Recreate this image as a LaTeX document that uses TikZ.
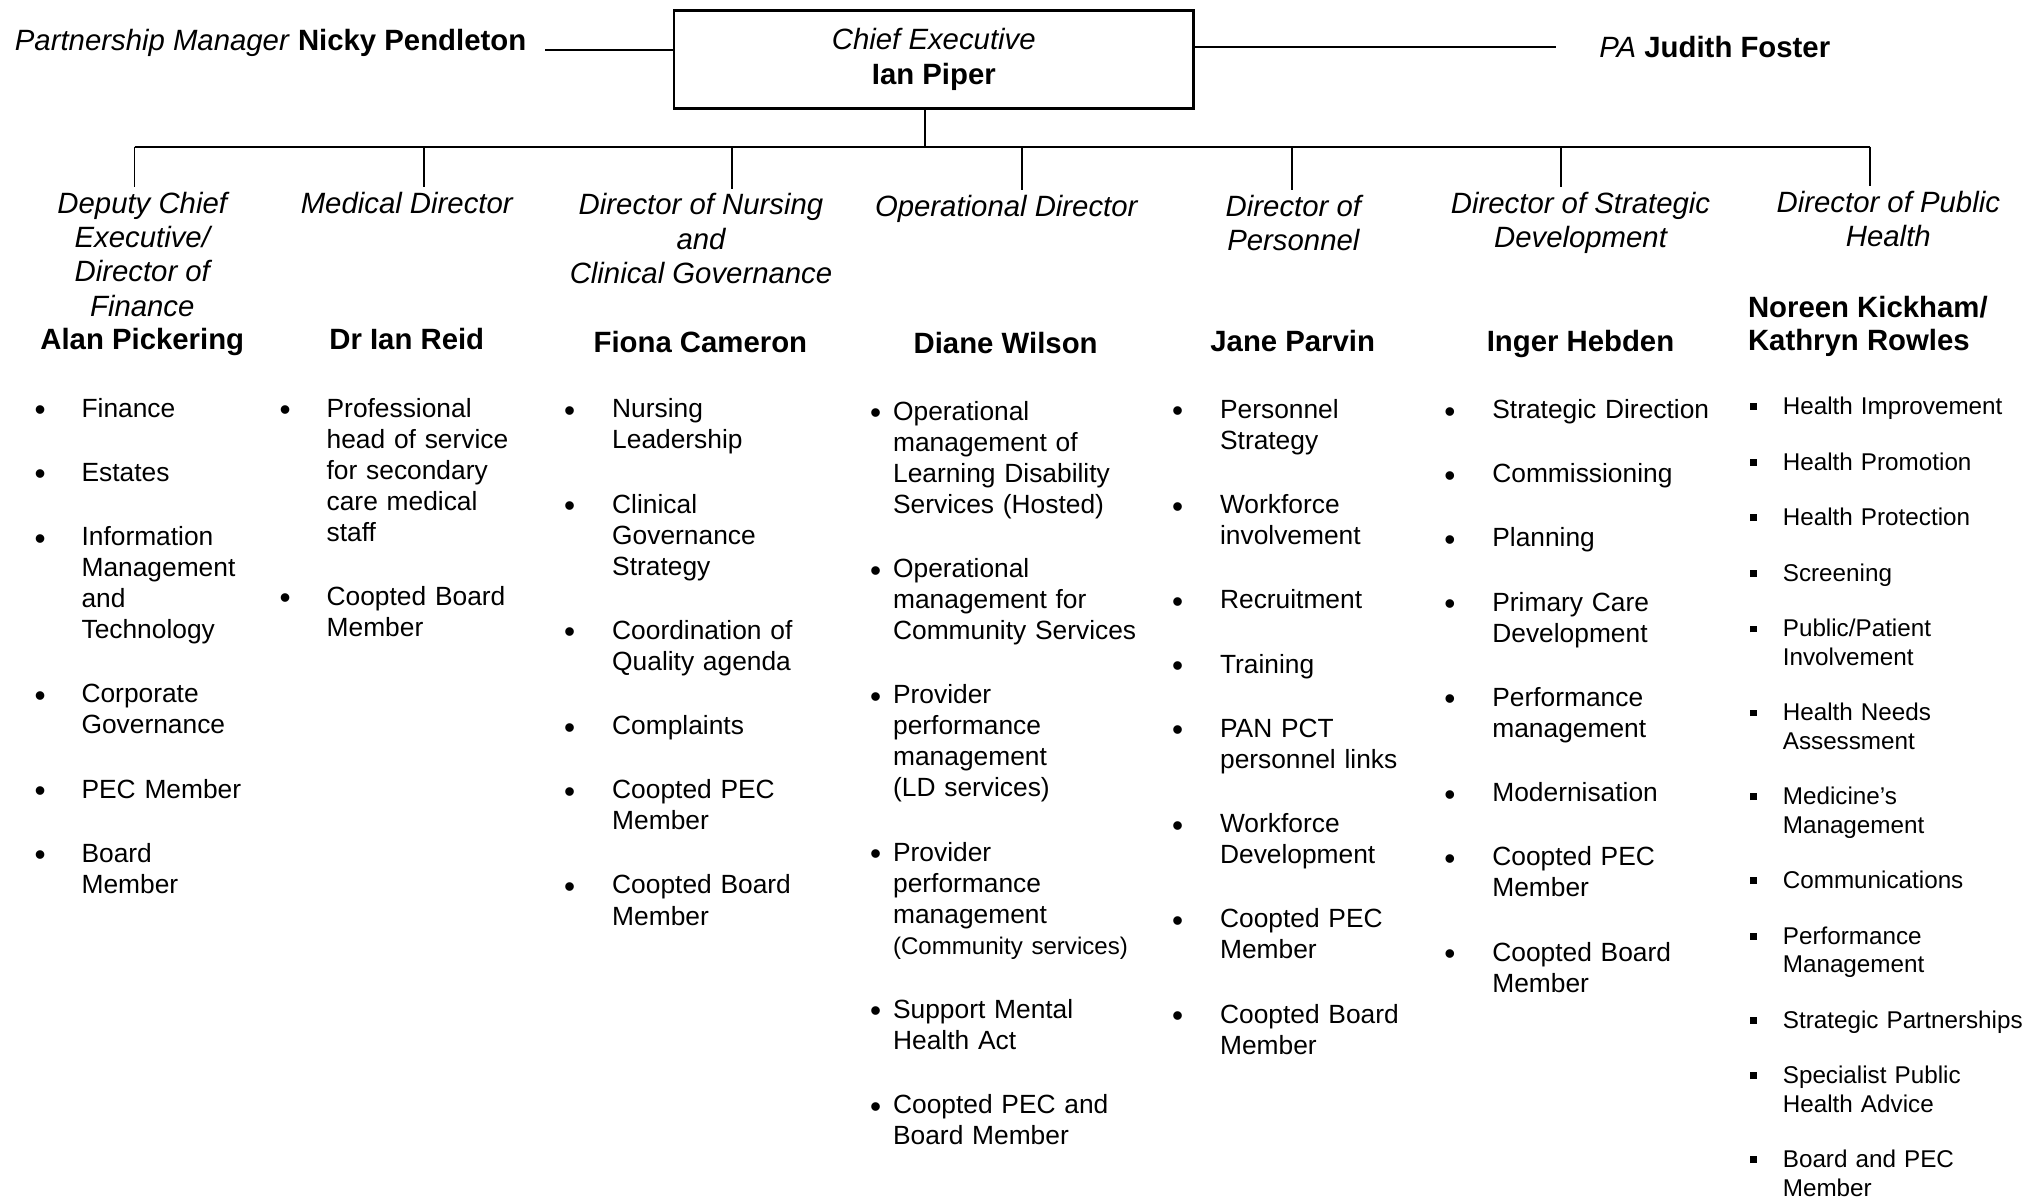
\documentclass[tikz,border=0pt]{standalone}
\usepackage{fontspec}
\setmainfont{Liberation Sans}

\newlength\bulind
\newlength\bulgap
\newcommand\bulmark{\raisebox{-1pt}{\fontsize{9}{9}\selectfont\textbullet}}
\newcommand\firstitm{\setlength{\parskip}{\bulgap}\noindent\hangindent=\bulind\hangafter=1\makebox[\bulind][l]{\bulmark}}
\newcommand\itm{\par\firstitm}

\tikzset{
  link/.style={line width=0.55pt},
  post/.style={font=\fontsize{8.35}{9.75}\selectfont\itshape, align=center, anchor=base, inner sep=1.2pt},
  holder/.style={font=\fontsize{8.35}{9.75}\selectfont\bfseries, align=center, anchor=base, inner sep=0pt},
  duties/.style 2 args={font=\fontsize{7.5}{8.83}\selectfont, text width=#2, align=left, anchor=base west, inner sep=0pt,
    execute at begin node={\setlength{\bulind}{#1}\setlength{\bulgap}{9.45pt}}},
  smallduties/.style 2 args={duties={#1}{#2}, font=\fontsize{6.9}{8.07}\selectfont,
    execute at begin node={\setlength{\bulgap}{7.75pt}\def\bulmark{\rule[1.3pt]{1.9pt}{1.9pt}}}},
}

\begin{document}
\begin{tikzpicture}[x=0.012934cm, y=-0.012934cm]

  \useasboundingbox (0,0) rectangle (1568,928);

  \node[draw, line width=0.8pt, minimum width=5.2cm, minimum height=0.983cm,
    font=\fontsize{8.35}{9.75}\selectfont, align=center] (ceo) at (722,46) {\textit{Chief Executive}\\\textbf{Ian Piper}};

  \node[anchor=base west, inner sep=0pt, font=\fontsize{8.35}{9.75}\selectfont] (pm) at (11,39)
    {\textit{Partnership Manager} \textbf{Nicky Pendleton}};
  \node[anchor=base west, inner sep=0pt, font=\fontsize{8.35}{9.75}\selectfont] (pa) at (1236,44.5)
    {\textit{PA} \textbf{Judith Foster}};

  \draw[link] (pm.base east) ++(14,-0.5) coordinate (pmx) -- (pmx -| ceo.west);
  \draw[link] (pa.base west) ++(-33,-8.5) coordinate (pax) -- (pax -| ceo.east);

  \node[post] (t1) at (110,244.5) {Deputy Chief\\Executive/\\Director of\\Finance};
  \node[post] (t2) at (314.5,165) {Medical Director};
  \node[post] (t3) at (542,219) {Director of Nursing\\and\\Clinical Governance};
  \node[post] (t4) at (778,167) {Operational Director};
  \node[post] (t5) at (1000,193.5) {Director of\\Personnel};
  \node[post] (t6) at (1222,191.5) {Director of Strategic\\Development};
  \node[post] (t7) at (1460,190.5) {Director of Public\\Health};

  \node[holder] (n1) at (110,270.5) {Alan Pickering};
  \node[holder] (n2) at (314.5,270.5) {Dr Ian Reid};
  \node[holder] (n3) at (541.5,272.5) {Fiona Cameron};
  \node[holder] (n4) at (777.5,273.5) {Diane Wilson};
  \node[holder] (n5) at (999.5,272) {Jane Parvin};
  \node[holder] (n6) at (1222,271.5) {Inger Hebden};
  \node[holder, anchor=base west, align=left, font=\fontsize{8.35}{9.4}\selectfont\bfseries] (n7) at (1351,271)
    {Noreen Kickham/\\Kathryn Rowles};

  \coordinate (hub) at (715,113.4);
  \foreach \i/\x in {1/104,2/327.6,3/566,4/790,5/998.6,6/1207,7/1445.6}
    \coordinate (b\i) at (\x,113.4);
  \draw[link] (hub |- ceo.south) -- (hub);
  \draw[link] (b1) -- (b7);
  \foreach \i in {1,...,7}
    \draw[link] (b\i) -- (b\i |- t\i.north);

  \node[duties={0.47cm}{2.3cm}] (d1) at (26.2,322.5) {%
    \firstitm Finance
    \itm Estates
    \itm Information\newline Management\newline and\newline Technology
    \itm Corporate\newline Governance
    \itm PEC Member
    \itm Board\newline Member\par};

  \node[duties={0.47cm}{2.6cm}] (d2) at (215.7,322.5) {%
    \firstitm Professional\newline head of service\newline for secondary\newline care medical\newline staff
    \itm Coopted Board\newline Member\par};

  \node[duties={0.48cm}{2.6cm}] (d3) at (435.7,323) {%
    \firstitm Nursing\newline Leadership
    \itm Clinical\newline Governance\newline Strategy
    \itm Coordination of\newline Quality agenda
    \itm Complaints
    \itm Coopted PEC\newline Member
    \itm Coopted Board\newline Member\par};

  \node[duties={0.23cm}{2.8cm}] (d4) at (672.2,325) {%
    \firstitm Operational\newline management of\newline Learning Disability\newline Services (Hosted)
    \itm Operational\newline management for\newline Community Services
    \itm Provider\newline performance\newline management\newline (LD services)
    \itm Provider\newline performance\newline management\newline {\fontsize{6.85}{8.83}\selectfont(Community services)}
    \itm Support Mental\newline Health Act
    \itm Coopted PEC and\newline Board Member\par};

  \node[duties={0.48cm}{2.6cm}] (d5) at (905.7,323.5) {%
    \firstitm Personnel\newline Strategy
    \itm Workforce\newline involvement
    \itm Recruitment
    \itm Training
    \itm PAN PCT\newline personnel links
    \itm Workforce\newline Development
    \itm Coopted PEC\newline Member
    \itm Coopted Board\newline Member\par};

  \node[duties={0.48cm}{2.75cm}] (d6) at (1116.2,323.6) {%
    \firstitm Strategic Direction
    \itm Commissioning
    \itm Planning
    \itm Primary Care\newline Development
    \itm Performance\newline management
    \itm Modernisation
    \itm Coopted PEC\newline Member
    \itm Coopted Board\newline Member\par};

  \node[smallduties={0.33cm}{2.8cm}] (d7) at (1352.4,320.5) {%
    \firstitm Health Improvement
    \itm Health Promotion
    \itm Health Protection
    \itm Screening
    \itm Public/Patient\newline Involvement
    \itm Health Needs\newline Assessment
    \itm Medicine's\newline Management
    \itm Communications
    \itm Performance\newline Management
    \itm Strategic Partnerships
    \itm Specialist Public\newline Health Advice
    \itm Board and PEC\newline Member\par};

\end{tikzpicture}
\end{document}
